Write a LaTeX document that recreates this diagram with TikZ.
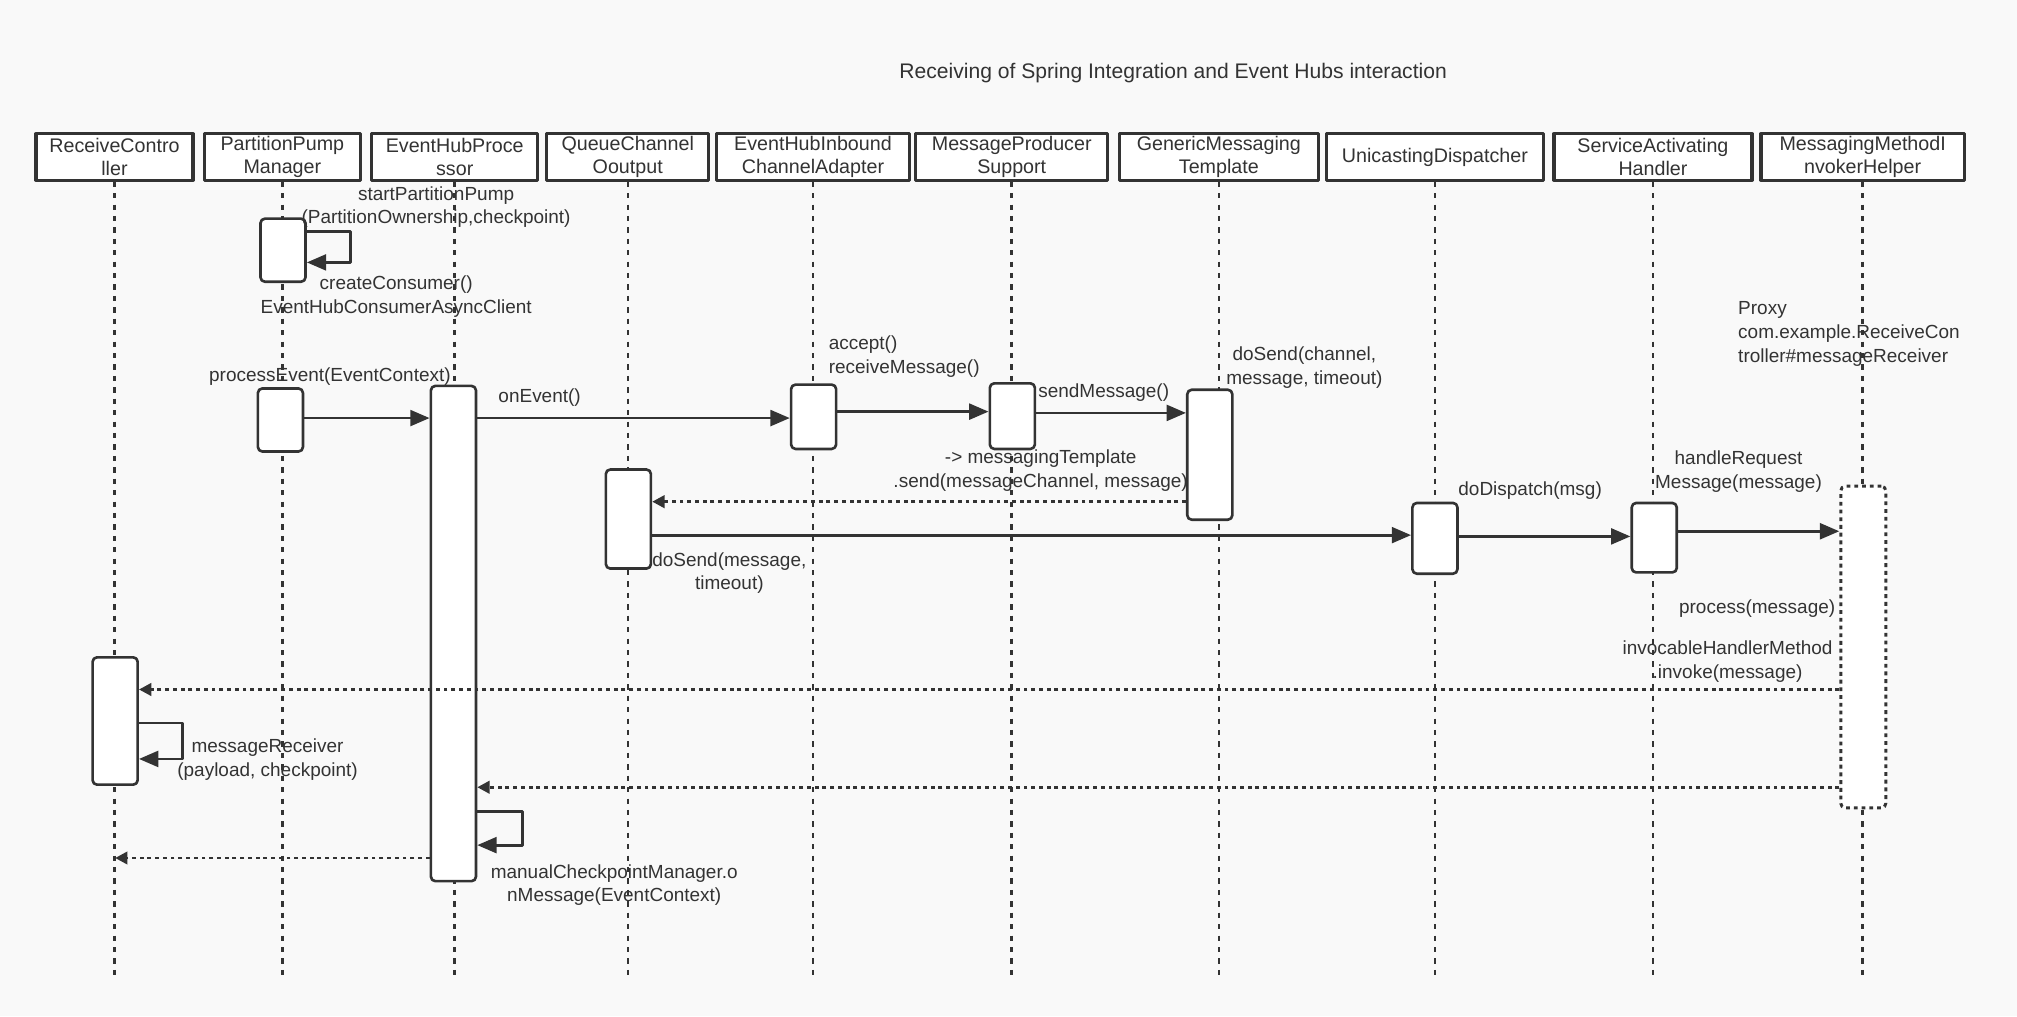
\documentclass[tikz,border=0pt]{standalone}
\usepackage{fontspec}
\setmainfont{Liberation Sans}
\usetikzlibrary{arrows.meta}
\newlength\upx
\setlength\upx{0.025728cm}
\definecolor{ink}{HTML}{333333}
\definecolor{paper}{HTML}{F9F9F9}
\tikzset{
  head/.style={draw=ink,line width=1.8pt,fill=white,inner sep=0pt,align=center,minimum height=36*\upx,minimum width=#1*\upx,font=\fontsize{11.2}{13.5}\selectfont},
  act/.style={draw=ink,line width=1.5pt,fill=white,rounded corners=2.5pt,inner sep=0pt,minimum width=35*\upx,minimum height=#1*\upx},
  life/.style={draw=ink,line width=1.4pt,dash pattern=on 3pt off 3.5pt},
  call/.style={draw=ink,line width=1.6pt,-{Triangle[length=11pt,width=9pt]}},
  ret/.style={draw=ink,line width=1.7pt,dash pattern=on 2.2pt off 2.2pt,-{Triangle[length=7pt,width=7pt]}},
  lbl/.style={text=ink,align=center,inner sep=0pt},
}
\begin{document}
\begin{tikzpicture}[x=0.025728cm,y=-0.025728cm,line join=round,font=\fontsize{10.8}{13.5}\selectfont]
\fill[paper](0,0)rectangle(1568,790);
\useasboundingbox(0,0)rectangle(1568,790);
\node[lbl,font=\fontsize{12}{14}\selectfont] (title) at (912,57) {Receiving of Spring Integration and Event Hubs interaction};
\node[head=122,text=ink] (rc) at (89,122) {ReceiveContro\\ller};
\node[head=121,text=ink] (ppm) at (219.5,122) {PartitionPump\\Manager};
\node[head=129,text=ink] (ehp) at (353.5,122) {EventHubProce\\ssor};
\node[head=126,text=ink] (qco) at (488,122) {QueueChannel\\Ooutput};
\node[head=150,text=ink] (inb) at (632,122) {EventHubInbound\\ChannelAdapter};
\node[head=149,text=ink] (mps) at (786.5,122) {MessageProducer\\Support};
\node[head=155,text=ink] (gmt) at (947.5,122) {GenericMessaging\\Template};
\node[head=169,text=ink] (ucd) at (1115.5,122) {UnicastingDispatcher};
\node[head=154,text=ink] (sah) at (1285,122) {ServiceActivating\\Handler};
\node[head=158,text=ink] (mmih) at (1448,122) {MessagingMethodI\\nvokerHelper};
\foreach \n in {rc,ppm,ehp,qco,inb,mps,gmt,ucd,sah,mmih}
  \draw[life](\n.south)--(\n.south |- 0,760);
\node[act=49] (ppmA) at (220,194.5) {};
\node[act=49] (ppmB) at (218,326.5) {};
\node[act=385] (ehpA) at (352.5,492.5) {};
\node[act=50] (inbA) at (632.5,324) {};
\node[act=51] (mpsA) at (787,323.5) {};
\node[act=101] (gmtA) at (940.5,353.5) {};
\node[act=77] (qcoA) at (488.5,403.5) {};
\node[act=55] (ucdA) at (1115.5,418.5) {};
\node[act=54] (sahA) at (1286,418) {};
\node[act=250,line width=1.7pt,dash pattern=on 2.2pt off 2.2pt] (mmihA) at (1448.5,503) {};
\node[act=99] (rcA) at (89.5,560.5) {};
\draw[call](ppmA.east |- 0,180)--++(34,0)--++(0,24)--(ppmA.east |- 0,204);
\draw[call](ppmB.east |- 0,325)--(ehpA.west |- 0,325);
\draw[call](ehpA.east |- 0,325)--(inbA.west |- 0,325);
\draw[call](inbA.east |- 0,320)--(mpsA.west |- 0,320);
\draw[call](mpsA.east |- 0,321)--(gmtA.west |- 0,321);
\draw[ret](gmtA.west |- 0,390)--(qcoA.east |- 0,390);
\draw[call](qcoA.east |- 0,416)--(ucdA.west |- 0,416);
\draw[call](ucdA.east |- 0,417)--(sahA.west |- 0,417);
\draw[call](sahA.east |- 0,413)--(mmihA.west |- 0,413);
\draw[ret](mmihA.west |- 0,536)--(rcA.east |- 0,536);
\draw[call](rcA.east |- 0,562)--++(34,0)--++(0,28)--(rcA.east |- 0,590);
\draw[ret](mmihA.west |- 0,612)--(ehpA.east |- 0,612);
\draw[call](ehpA.east |- 0,631)--++(35,0)--++(0,26)--(ehpA.east |- 0,657);
\draw[ret](ehpA.west |- 0,667)--(rcA |- 0,667);
\node[lbl] (l1) at (339,161) {startPartitionPump\\(PartitionOwnership,checkpoint)};\node[lbl] (l2) at (308,230.5) {createConsumer()\\EventHubConsumerAsyncClient};\node[lbl] (l3) at (256.5,293) {processEvent(EventContext)};\node[lbl] (l4) at (419.5,309) {onEvent()};\node[lbl,anchor=west,align=left] (l5) at (644,277) {accept()\\receiveMessage()};\node[lbl] (l6) at (858,305) {sendMessage()};\node[lbl] (l7) at (1014,286) {doSend(channel,\\message, timeout)};\node[lbl] (l8) at (809,366) {-> messagingTemplate\\.send(messageChannel, message)};\node[lbl] (l9) at (567,445.5) {doSend(message,\\timeout)};\node[lbl] (l10) at (1189.5,381) {doDispatch(msg)};\node[lbl] (l11) at (1351.5,366.5) {handleRequest\\Message(message)};\node[lbl,anchor=west,align=left] (l12) at (1351,259.5) {Proxy\\com.example.ReceiveCon\\troller\#messageReceiver};\node[lbl] (l13) at (1366,473) {process(message)};\node[lbl] (l14) at (1343,514.5) {invocableHandlerMethod\\.invoke(message)};\node[lbl] (l15) at (208,590.5) {messageReceiver\\(payload, checkpoint)};\node[lbl] (l16) at (477.5,688) {manualCheckpointManager.o\\nMessage(EventContext)};
\end{tikzpicture}
\end{document}
